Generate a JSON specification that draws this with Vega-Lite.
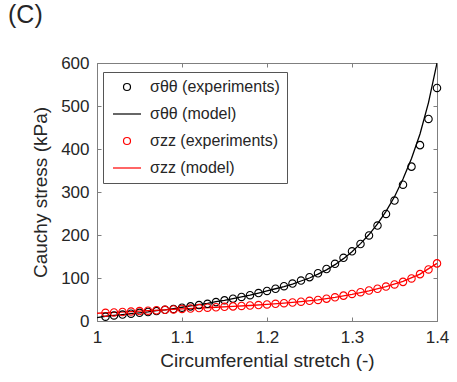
{
  "$schema": "https://vega.github.io/schema/vega-lite/v6.json",
  "autosize": "none",
  "width": 340,
  "height": 258,
  "padding": {"left": 97, "top": 63, "right": 20, "bottom": 61},
  "background": "white",
  "title": {"text": "(C)", "anchor": "start", "frame": "group", "dx": -89, "offset": 26, "fontSize": 25, "fontWeight": "normal", "font": "Liberation Sans", "color": "#262626"},
  "config": {
    "view": {"stroke": "#7f7f7f", "strokeWidth": 1},
    "font": "Liberation Sans",
    "axis": {"grid": false, "domainColor": "#7f7f7f", "tickColor": "#7f7f7f", "labelColor": "#262626", "titleColor": "#262626", "labelFont": "Liberation Sans", "titleFont": "Liberation Sans", "labelFontSize": 17, "titleFontSize": 19, "titleFontWeight": "normal", "tickSize": -4},
    "legend": {"orient": "none", "legendX": 6, "legendY": 9, "strokeColor": "#555555", "fillColor": "white", "padding": 7, "labelFontSize": 16, "labelFont": "Liberation Sans", "labelColor": "#262626", "symbolSize": 49, "symbolStrokeWidth": 1.2, "symbolOffset": 9, "labelOffset": 15, "rowPadding": 11, "symbolFillColor": "transparent", "symbolOpacity": 1, "titleFontSize": 0}
  },
  "datasets": {
    "exp": [
      {"x":1.01,"y":10,"series":"σθθ (experiments)"},{"x":1.02,"y":13,"series":"σθθ (experiments)"},{"x":1.03,"y":15,"series":"σθθ (experiments)"},{"x":1.04,"y":17,"series":"σθθ (experiments)"},{"x":1.05,"y":19,"series":"σθθ (experiments)"},{"x":1.06,"y":21,"series":"σθθ (experiments)"},{"x":1.07,"y":23,"series":"σθθ (experiments)"},{"x":1.08,"y":26,"series":"σθθ (experiments)"},{"x":1.09,"y":28,"series":"σθθ (experiments)"},{"x":1.10,"y":31,"series":"σθθ (experiments)"},
      {"x":1.11,"y":34,"series":"σθθ (experiments)"},{"x":1.12,"y":37,"series":"σθθ (experiments)"},{"x":1.13,"y":40,"series":"σθθ (experiments)"},{"x":1.14,"y":44,"series":"σθθ (experiments)"},{"x":1.15,"y":48,"series":"σθθ (experiments)"},{"x":1.16,"y":52,"series":"σθθ (experiments)"},{"x":1.17,"y":56,"series":"σθθ (experiments)"},{"x":1.18,"y":60,"series":"σθθ (experiments)"},{"x":1.19,"y":65,"series":"σθθ (experiments)"},{"x":1.20,"y":70,"series":"σθθ (experiments)"},
      {"x":1.21,"y":75,"series":"σθθ (experiments)"},{"x":1.22,"y":81,"series":"σθθ (experiments)"},{"x":1.23,"y":87,"series":"σθθ (experiments)"},{"x":1.24,"y":94,"series":"σθθ (experiments)"},{"x":1.25,"y":102,"series":"σθθ (experiments)"},{"x":1.26,"y":111,"series":"σθθ (experiments)"},{"x":1.27,"y":121,"series":"σθθ (experiments)"},{"x":1.28,"y":133,"series":"σθθ (experiments)"},{"x":1.29,"y":147,"series":"σθθ (experiments)"},{"x":1.30,"y":162,"series":"σθθ (experiments)"},
      {"x":1.31,"y":179,"series":"σθθ (experiments)"},{"x":1.32,"y":199,"series":"σθθ (experiments)"},{"x":1.33,"y":222,"series":"σθθ (experiments)"},{"x":1.34,"y":249,"series":"σθθ (experiments)"},{"x":1.35,"y":280,"series":"σθθ (experiments)"},{"x":1.36,"y":317,"series":"σθθ (experiments)"},{"x":1.37,"y":359,"series":"σθθ (experiments)"},{"x":1.38,"y":409,"series":"σθθ (experiments)"},{"x":1.39,"y":470,"series":"σθθ (experiments)"},{"x":1.40,"y":542,"series":"σθθ (experiments)"},
      {"x":1.01,"y":19,"series":"σzz (experiments)"},{"x":1.02,"y":20,"series":"σzz (experiments)"},{"x":1.03,"y":21,"series":"σzz (experiments)"},{"x":1.04,"y":22,"series":"σzz (experiments)"},{"x":1.05,"y":23,"series":"σzz (experiments)"},{"x":1.06,"y":24,"series":"σzz (experiments)"},{"x":1.07,"y":25,"series":"σzz (experiments)"},{"x":1.08,"y":26,"series":"σzz (experiments)"},{"x":1.09,"y":27,"series":"σzz (experiments)"},{"x":1.10,"y":28,"series":"σzz (experiments)"},
      {"x":1.11,"y":29,"series":"σzz (experiments)"},{"x":1.12,"y":30,"series":"σzz (experiments)"},{"x":1.13,"y":31,"series":"σzz (experiments)"},{"x":1.14,"y":32,"series":"σzz (experiments)"},{"x":1.15,"y":33,"series":"σzz (experiments)"},{"x":1.16,"y":34,"series":"σzz (experiments)"},{"x":1.17,"y":35,"series":"σzz (experiments)"},{"x":1.18,"y":36,"series":"σzz (experiments)"},{"x":1.19,"y":37,"series":"σzz (experiments)"},{"x":1.20,"y":38.5,"series":"σzz (experiments)"},
      {"x":1.21,"y":40,"series":"σzz (experiments)"},{"x":1.22,"y":41.5,"series":"σzz (experiments)"},{"x":1.23,"y":43,"series":"σzz (experiments)"},{"x":1.24,"y":45,"series":"σzz (experiments)"},{"x":1.25,"y":47,"series":"σzz (experiments)"},{"x":1.26,"y":49,"series":"σzz (experiments)"},{"x":1.27,"y":52,"series":"σzz (experiments)"},{"x":1.28,"y":55,"series":"σzz (experiments)"},{"x":1.29,"y":59,"series":"σzz (experiments)"},{"x":1.30,"y":63,"series":"σzz (experiments)"},
      {"x":1.31,"y":67,"series":"σzz (experiments)"},{"x":1.32,"y":71,"series":"σzz (experiments)"},{"x":1.33,"y":75,"series":"σzz (experiments)"},{"x":1.34,"y":80,"series":"σzz (experiments)"},{"x":1.35,"y":85,"series":"σzz (experiments)"},{"x":1.36,"y":91,"series":"σzz (experiments)"},{"x":1.37,"y":99,"series":"σzz (experiments)"},{"x":1.38,"y":109,"series":"σzz (experiments)"},{"x":1.39,"y":120,"series":"σzz (experiments)"},{"x":1.40,"y":134,"series":"σzz (experiments)"}
    ],
    "model": [
      {"x":1.00,"y":8,"series":"σθθ (model)"},{"x":1.01,"y":11,"series":"σθθ (model)"},{"x":1.02,"y":13,"series":"σθθ (model)"},{"x":1.03,"y":15,"series":"σθθ (model)"},{"x":1.04,"y":17,"series":"σθθ (model)"},{"x":1.05,"y":19,"series":"σθθ (model)"},{"x":1.06,"y":21,"series":"σθθ (model)"},{"x":1.07,"y":24,"series":"σθθ (model)"},{"x":1.08,"y":26,"series":"σθθ (model)"},{"x":1.09,"y":29,"series":"σθθ (model)"},{"x":1.10,"y":32,"series":"σθθ (model)"},
      {"x":1.11,"y":35,"series":"σθθ (model)"},{"x":1.12,"y":38,"series":"σθθ (model)"},{"x":1.13,"y":41,"series":"σθθ (model)"},{"x":1.14,"y":45,"series":"σθθ (model)"},{"x":1.15,"y":48,"series":"σθθ (model)"},{"x":1.16,"y":52,"series":"σθθ (model)"},{"x":1.17,"y":56,"series":"σθθ (model)"},{"x":1.18,"y":60,"series":"σθθ (model)"},{"x":1.19,"y":65,"series":"σθθ (model)"},{"x":1.20,"y":70,"series":"σθθ (model)"},
      {"x":1.21,"y":75,"series":"σθθ (model)"},{"x":1.22,"y":80,"series":"σθθ (model)"},{"x":1.23,"y":86,"series":"σθθ (model)"},{"x":1.24,"y":93,"series":"σθθ (model)"},{"x":1.25,"y":100,"series":"σθθ (model)"},{"x":1.26,"y":109,"series":"σθθ (model)"},{"x":1.27,"y":119,"series":"σθθ (model)"},{"x":1.28,"y":131,"series":"σθθ (model)"},{"x":1.29,"y":145,"series":"σθθ (model)"},{"x":1.30,"y":161,"series":"σθθ (model)"},
      {"x":1.31,"y":180,"series":"σθθ (model)"},{"x":1.32,"y":201,"series":"σθθ (model)"},{"x":1.33,"y":226,"series":"σθθ (model)"},{"x":1.34,"y":255,"series":"σθθ (model)"},{"x":1.35,"y":289,"series":"σθθ (model)"},{"x":1.36,"y":330,"series":"σθθ (model)"},{"x":1.37,"y":378,"series":"σθθ (model)"},{"x":1.38,"y":435,"series":"σθθ (model)"},{"x":1.39,"y":508,"series":"σθθ (model)"},{"x":1.40,"y":600,"series":"σθθ (model)"},
      {"x":1.00,"y":18,"series":"σzz (model)"},{"x":1.02,"y":20,"series":"σzz (model)"},{"x":1.04,"y":22,"series":"σzz (model)"},{"x":1.06,"y":24,"series":"σzz (model)"},{"x":1.08,"y":26,"series":"σzz (model)"},{"x":1.10,"y":28,"series":"σzz (model)"},{"x":1.12,"y":30,"series":"σzz (model)"},{"x":1.14,"y":32,"series":"σzz (model)"},{"x":1.16,"y":34,"series":"σzz (model)"},{"x":1.18,"y":36,"series":"σzz (model)"},
      {"x":1.20,"y":38.5,"series":"σzz (model)"},{"x":1.22,"y":41.5,"series":"σzz (model)"},{"x":1.24,"y":45,"series":"σzz (model)"},{"x":1.26,"y":49,"series":"σzz (model)"},{"x":1.28,"y":55,"series":"σzz (model)"},{"x":1.30,"y":62,"series":"σzz (model)"},{"x":1.32,"y":70,"series":"σzz (model)"},{"x":1.34,"y":80,"series":"σzz (model)"},{"x":1.36,"y":92,"series":"σzz (model)"},{"x":1.38,"y":109,"series":"σzz (model)"},{"x":1.40,"y":134,"series":"σzz (model)"}
    ]
  },
  "layer": [
    {
      "data": {"name": "model"},
      "mark": {"type": "line", "strokeWidth": 1.3, "clip": true, "opacity": 1},
      "encoding": {
        "x": {"field": "x", "type": "quantitative", "scale": {"domain": [1, 1.4], "nice": false}, "axis": {"orient": "bottom", "title": "Circumferential stretch (-)", "values": [1, 1.1, 1.2, 1.3, 1.4], "format": "~g", "labelPadding": 12, "titlePadding": 6, "labelFlush": false}},
        "y": {"field": "y", "type": "quantitative", "scale": {"domain": [0, 600], "nice": false}, "axis": {"orient": "left", "title": "Cauchy stress (kPa)", "values": [0, 100, 200, 300, 400, 500, 600], "labelPadding": 12, "titlePadding": 10, "labelFlush": false}},
        "color": {"field": "series", "type": "nominal", "title": null, "scale": {"domain": ["σθθ (experiments)", "σθθ (model)", "σzz (experiments)", "σzz (model)"], "range": ["#000000", "#000000", "#ff0000", "#ff0000"]}},
        "detail": {"field": "series"}
      }
    },
    {
      "data": {"name": "exp"},
      "mark": {"type": "point", "filled": false, "size": 55, "strokeWidth": 1.1, "opacity": 1},
      "encoding": {
        "x": {"field": "x", "type": "quantitative", "scale": {"domain": [1, 1.4], "nice": false}, "axis": {"orient": "top", "title": null, "labels": false, "values": [1, 1.1, 1.2, 1.3, 1.4], "domain": false}},
        "y": {"field": "y", "type": "quantitative", "scale": {"domain": [0, 600], "nice": false}, "axis": {"orient": "right", "title": null, "labels": false, "values": [0, 100, 200, 300, 400, 500, 600], "domain": false}},
        "color": {"field": "series", "type": "nominal", "title": null, "scale": {"domain": ["σθθ (experiments)", "σθθ (model)", "σzz (experiments)", "σzz (model)"], "range": ["#000000", "#000000", "#ff0000", "#ff0000"]}},
        "shape": {"field": "series", "type": "nominal", "title": null, "scale": {"domain": ["σθθ (experiments)", "σθθ (model)", "σzz (experiments)", "σzz (model)"], "range": ["circle", "M-4,0H4", "circle", "M-4,0H4"]}}
      }
    }
  ],
  "resolve": {"axis": {"x": "independent", "y": "independent"}}
}
